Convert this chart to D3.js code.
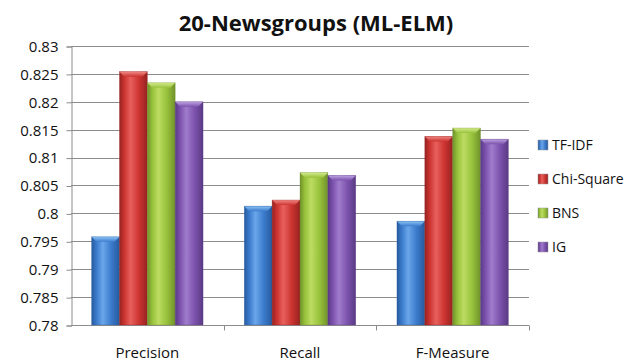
<!DOCTYPE html>
<html>
<head>
<meta charset="utf-8">
<script src="https://cdn.jsdelivr.net/npm/d3@7"></script>
<style>
  html, body { margin: 0; padding: 0; background: #fff; }
  svg { display: block; font-family: "Open Sans", "Liberation Sans", sans-serif; }
</style>
</head>
<body>
<svg id="chart" width="636" height="362"></svg>
<script>
// Feature-selection comparison on 20-Newsgroups with ML-ELM
const categories = ["Precision", "Recall", "F-Measure"];
const seriesNames = ["TF-IDF", "Chi-Square", "BNS", "IG"];
const tfidf     = [0.7958, 0.8013, 0.7986];
const chiSquare = [0.8254, 0.8024, 0.8138];
const bns       = [0.8234, 0.8073, 0.8153];
const ig        = [0.8200, 0.8068, 0.8133];
const yTicks = [0.78, 0.785, 0.79, 0.795, 0.8, 0.805, 0.81, 0.815, 0.82, 0.825, 0.83];
const yTickLabels = ["0.78", "0.785", "0.79", "0.795", "0.8", "0.805", "0.81", "0.815", "0.82", "0.825", "0.83"];
const title = "20-Newsgroups (ML-ELM)";

const seriesValues = [tfidf, chiSquare, bns, ig];
const colors = [
  { base: "#3b7bcc", light: "#6aa6ea", dark: "#275a9e", cap: "#8cc3f5" },
  { base: "#cc3431", light: "#e8605c", dark: "#962220", cap: "#f08a86" },
  { base: "#98c23c", light: "#bcdc62", dark: "#70922a", cap: "#d4ec8a" },
  { base: "#7c52ad", light: "#a07ccc", dark: "#5a3a84", cap: "#bea4e2" }
];

const svg = d3.select("#chart");
const margin = { left: 71, right: 107, top: 46, bottom: 37 };
const W = 636, H = 362;

const x0 = d3.scaleBand().domain(categories)
  .range([margin.left, W - margin.right]).paddingInner(0.27).paddingOuter(0.135);
const x1 = d3.scaleBand().domain(seriesNames).range([0, x0.bandwidth()]).padding(0);
const y = d3.scaleLinear().domain([0.78, 0.83]).range([H - margin.bottom, margin.top]);

// gradients giving the bars a rounded, glossy look
const defs = svg.append("defs");
colors.forEach((c, i) => {
  const g = defs.append("linearGradient").attr("id", "bar" + i)
    .attr("x1", "0%").attr("x2", "100%").attr("y1", "0%").attr("y2", "0%");
  g.append("stop").attr("offset", "0%").attr("stop-color", c.dark);
  g.append("stop").attr("offset", "18%").attr("stop-color", c.base);
  g.append("stop").attr("offset", "40%").attr("stop-color", c.light);
  g.append("stop").attr("offset", "70%").attr("stop-color", c.base);
  g.append("stop").attr("offset", "100%").attr("stop-color", c.dark);
  const cg = defs.append("linearGradient").attr("id", "cap" + i)
    .attr("x1", "0%").attr("x2", "0%").attr("y1", "0%").attr("y2", "100%");
  cg.append("stop").attr("offset", "0%").attr("stop-color", c.cap);
  cg.append("stop").attr("offset", "100%").attr("stop-color", c.base);
});

// title
svg.append("text")
  .attr("x", 316).attr("y", 31)
  .attr("text-anchor", "middle")
  .attr("font-size", 22).attr("font-weight", "bold")
  .attr("fill", "#111")
  .text(title);

// horizontal gridlines
svg.append("g").selectAll("line").data(yTicks).join("line")
  .attr("x1", margin.left).attr("x2", W - margin.right)
  .attr("y1", d => Math.round(y(d)) + 0.5).attr("y2", d => Math.round(y(d)) + 0.5)
  .attr("stroke", "#8c8c8c").attr("stroke-width", 1);

// y axis
const yAxis = d3.axisLeft(y).tickValues(yTicks)
  .tickFormat((d, i) => yTickLabels[i]).tickSize(5).tickPadding(8);
const gy = svg.append("g").attr("transform", `translate(${margin.left + 0.5},0.5)`).call(yAxis);
gy.select(".domain").attr("stroke", "#8c8c8c");
gy.selectAll(".tick line").attr("stroke", "#8c8c8c");
gy.selectAll(".tick text").attr("font-size", 15).attr("fill", "#111")
  .attr("font-family", "'Open Sans', sans-serif");

// x axis with ticks at category boundaries
const gx = svg.append("g").attr("transform", `translate(0,${Math.round(y(0.78)) + 0.5})`);
gx.append("line").attr("x1", margin.left).attr("x2", W - margin.right)
  .attr("stroke", "#8c8c8c");
const boundaries = categories.map((_, i) =>
  margin.left + (i + 1) * ((W - margin.right - margin.left) / categories.length));
gx.selectAll(".bt").data(boundaries).join("line")
  .attr("x1", d => Math.round(d) + 0.5).attr("x2", d => Math.round(d) + 0.5)
  .attr("y1", 0).attr("y2", 5).attr("stroke", "#8c8c8c");
gx.selectAll("text").data(categories).join("text")
  .attr("x", d => x0(d) + x0.bandwidth() / 2)
  .attr("y", 32)
  .attr("text-anchor", "middle")
  .attr("font-size", 15).attr("fill", "#111")
  .text(d => d);

// bars
const groups = svg.append("g").selectAll("g").data(categories).join("g")
  .attr("transform", d => `translate(${x0(d)},0)`);
groups.each(function (cat, ci) {
  const g = d3.select(this);
  seriesNames.forEach((s, si) => {
    const v = seriesValues[si][ci];
    const bx = x1(s), bw = x1.bandwidth();
    const top = y(v), bottom = y(0.78);
    g.append("rect")
      .attr("x", bx).attr("y", top)
      .attr("width", bw).attr("height", bottom - top)
      .attr("fill", `url(#bar${si})`);
    // bevelled top cap
    const bev = 5;
    g.append("path")
      .attr("d", `M${bx},${top} L${bx + bw},${top} L${bx + bw - bev},${top + bev} L${bx + bev},${top + bev} Z`)
      .attr("fill", `url(#cap${si})`);
    g.append("rect")
      .attr("x", bx).attr("y", top)
      .attr("width", bw).attr("height", bottom - top)
      .attr("fill", "none").attr("stroke", colors[si].dark).attr("stroke-opacity", 0.5)
      .attr("stroke-width", 0.6);
  });
});

// legend
const legend = svg.append("g").attr("transform", "translate(538,0)");
const legendY = [145, 179, 213, 247];
seriesNames.forEach((s, i) => {
  legend.append("rect")
    .attr("x", 0).attr("y", legendY[i] - 5)
    .attr("width", 10).attr("height", 10)
    .attr("fill", `url(#bar${i})`)
    .attr("stroke", "#999").attr("stroke-width", 0.5);
  legend.append("text")
    .attr("x", 14).attr("y", legendY[i])
    .attr("dy", "0.35em")
    .attr("font-size", 14).attr("fill", "#111")
    .text(s);
});
</script>
</body>
</html>
